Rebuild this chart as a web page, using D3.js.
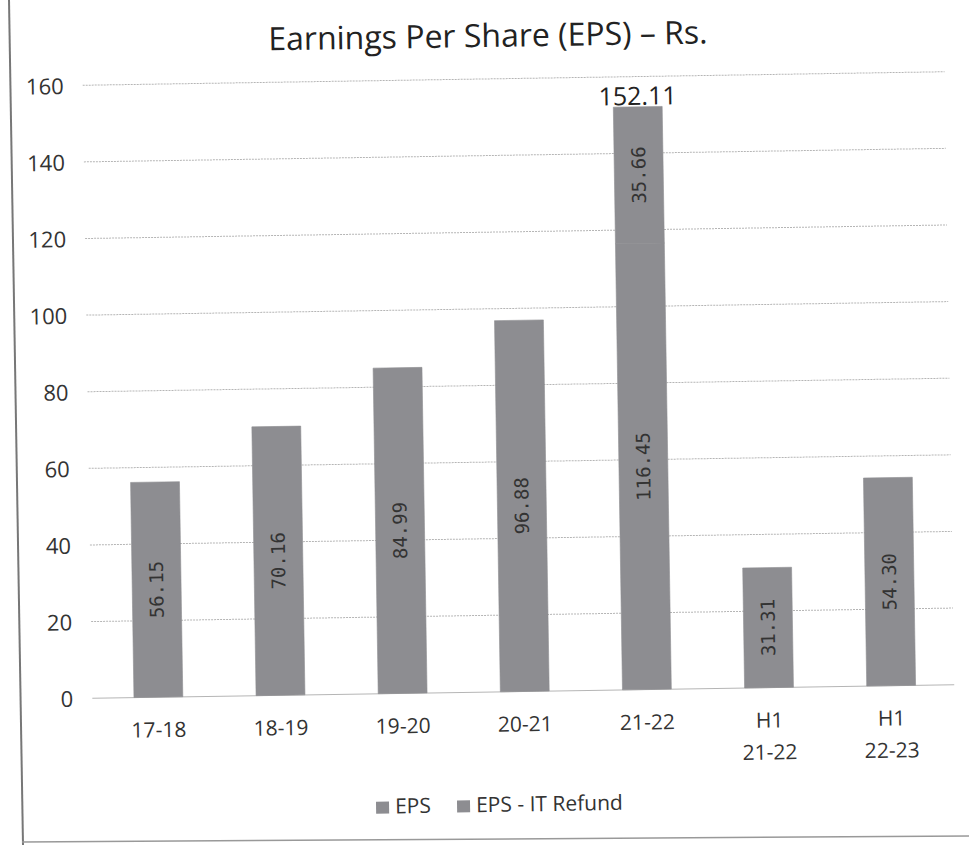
<!DOCTYPE html>
<html>
<head>
<meta charset="utf-8">
<script src="https://cdn.jsdelivr.net/npm/d3@7"></script>
<style>
  html, body { margin: 0; padding: 0; background: #fff; }
  svg { display: block; }
</style>
</head>
<body>
<svg id="chart" width="969" height="845"></svg>
<script>
// ---- data ----
const categories = ["17-18", "18-19", "19-20", "20-21", "21-22", "H1\n21-22", "H1\n22-23"];
const epsValues = [56.15, 70.16, 84.99, 96.88, 116.45, 31.31, 54.30];
const itRefundValues = [0, 0, 0, 0, 35.66, 0, 0];
const totalLabels = [null, null, null, null, "152.11", null, null];
const yTicks = [0, 20, 40, 60, 80, 100, 120, 140, 160];
const seriesNames = ["EPS", "EPS - IT Refund"];
const titleText = "Earnings Per Share (EPS) \u2013 Rs.";

// ---- layout ----
const W = 969, H = 845;
const barColor = "#8d8d91";
const textColor = "#333333";
const font = "'Open Sans', Lato, sans-serif";
const monoFont = "'DejaVu Sans Mono', 'Liberation Mono', monospace";

const svg = d3.select("#chart");
svg.append("rect").attr("width", W).attr("height", H).attr("fill", "#fff");

// page borders from scan
svg.append("line").attr("x1", 9).attr("x2", 23).attr("y1", 0).attr("y2", 845)
  .attr("stroke", "#777").attr("stroke-width", 2);
svg.append("line").attr("x1", 22).attr("x2", W).attr("y1", 842).attr("y2", 836)
  .attr("stroke", "#999").attr("stroke-width", 1.5);

const g = svg.append("g").attr("transform", "rotate(-0.9, 485, 420)");

const x = d3.scaleBand().domain(categories)
  .range([93, 948]).paddingInner(0.6).paddingOuter(0.3);
const y = d3.scaleLinear().domain([0, 160]).range([692, 79]);

// gridlines
g.append("g").selectAll("line").data(yTicks).join("line")
  .attr("x1", 88).attr("x2", 950)
  .attr("y1", d => y(d)).attr("y2", d => y(d))
  .attr("stroke", "#b5b5b5").attr("stroke-width", 1)
  .attr("stroke-dasharray", d => d === 0 ? null : "2,1");

// y axis labels
const yAxis = d3.axisLeft(y).tickValues(yTicks).tickSize(0).tickPadding(0);
const ya = g.append("g").attr("transform", "translate(69,0)").call(yAxis);
ya.select(".domain").remove();
ya.selectAll("text").attr("font-family", font).attr("font-size", 22)
  .attr("fill", textColor).attr("text-anchor", "end").attr("dy", "0.36em");

// stacked data
const rows = categories.map((c, i) => ({ cat: c, eps: epsValues[i], refund: itRefundValues[i] }));
const stack = d3.stack().keys(["eps", "refund"])(rows);

const layers = g.append("g").selectAll("g").data(stack).join("g")
  .attr("fill", barColor).attr("stroke", barColor).attr("stroke-width", 0.6);
layers.selectAll("rect").data(d => d.filter(s => s[1] > s[0])).join("rect")
  .attr("x", d => x(d.data.cat))
  .attr("width", x.bandwidth())
  .attr("y", d => y(d[1]))
  .attr("height", d => y(d[0]) - y(d[1]));

// segment labels (rotated)
stack.forEach(layer => {
  layer.forEach(d => {
    const v = d[1] - d[0];
    if (v <= 0) return;
    const cx = x(d.data.cat) + x.bandwidth() / 2;
    const cy = y((d[0] + d[1]) / 2);
    g.append("text")
      .attr("transform", `translate(${cx},${cy}) rotate(-90)`)
      .attr("text-anchor", "middle").attr("dy", "0.35em")
      .attr("font-family", monoFont).attr("font-size", 19)
      .attr("fill", textColor)
      .text(v.toFixed(2));
  });
});

// total labels
totalLabels.forEach((t, i) => {
  if (!t) return;
  const total = epsValues[i] + itRefundValues[i];
  g.append("text")
    .attr("x", x(categories[i]) + x.bandwidth() / 2)
    .attr("y", y(total) - 2)
    .attr("text-anchor", "middle")
    .attr("font-family", font).attr("font-size", 25)
    .attr("fill", "#222")
    .text(t);
});

// x axis labels
const xl = g.append("g").selectAll("text").data(categories).join("text")
  .attr("text-anchor", "middle")
  .attr("font-family", font).attr("font-size", 21).attr("fill", textColor)
  .attr("x", d => x(d) + x.bandwidth() / 2);
xl.each(function (d) {
  const lines = d.split("\n");
  const sel = d3.select(this);
  lines.forEach((ln, k) => {
    sel.append("tspan").attr("x", x(d) + x.bandwidth() / 2)
      .attr("y", y(0) + 40 + k * 32).text(ln);
  });
});

// title
g.append("text").attr("x", 494).attr("y", 47).attr("text-anchor", "middle")
  .attr("font-family", font).attr("font-size", 32).attr("fill", "#222")
  .text(titleText);

// legend
const legendItems = [{ name: seriesNames[0], x: 370 }, { name: seriesNames[1], x: 451 }];
const lg = g.append("g").selectAll("g").data(legendItems).join("g")
  .attr("transform", d => `translate(${d.x},${812})`);
lg.append("rect").attr("width", 13).attr("height", 12).attr("y", -12).attr("fill", barColor);
lg.append("text").attr("x", 19)
  .attr("font-family", font).attr("font-size", 21).attr("fill", textColor)
  .text(d => d.name);
</script>
</body>
</html>
